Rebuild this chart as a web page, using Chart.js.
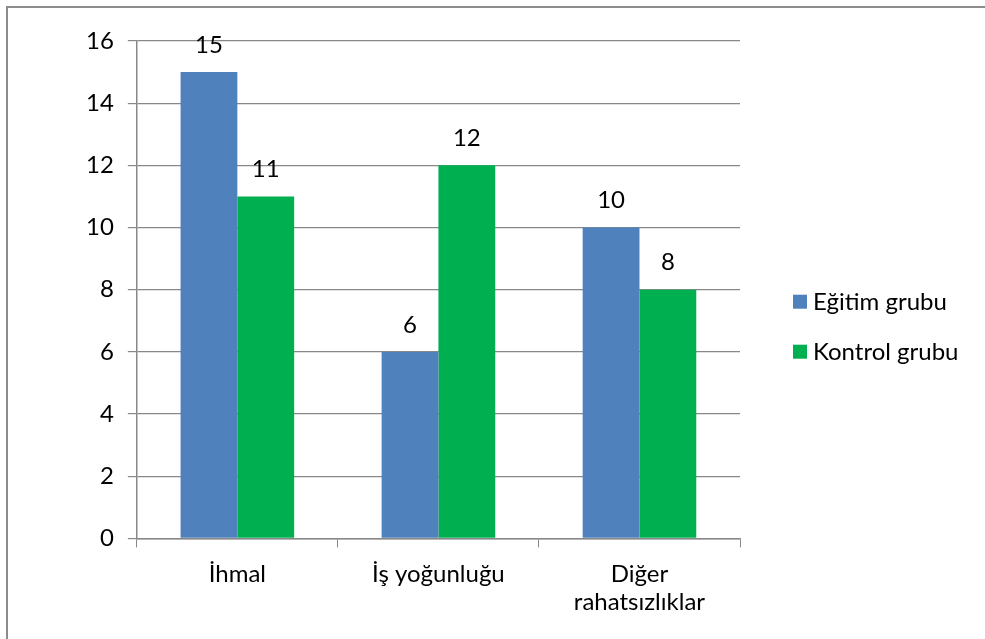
<!DOCTYPE html>
<html>
<head>
<meta charset="utf-8">
<script src="https://cdn.jsdelivr.net/npm/chart.js@4/dist/chart.umd.min.js"></script>
<style>
  html, body { margin: 0; padding: 0; background: #fff; overflow: hidden; }
  #frame { position: absolute; left: 6px; top: 6px; width: 990px; height: 650px;
           border-left: 2px solid #8c8c8c; border-top: 2px solid #8c8c8c; }
  #wrap { position: absolute; left: 0; top: 0; width: 985px; height: 639px; }
</style>
</head>
<body>
<div id="frame"></div>
<div id="wrap"><canvas id="canvas"></canvas></div>
<script>
// categories and series
var categories = ['İhmal', 'İş yoğunluğu', ['Diğer', 'rahatsızlıklar']]
var egitim = [15, 6, 10]
var kontrol = [11, 12, 8]
var seriesNames = ['Eğitim grubu', 'Kontrol grubu']
var yTicks = [0, 2, 4, 6, 8, 10, 12, 14, 16]

var fontName = 'Lato, "Open Sans", sans-serif'
var fontSize = 24

// draws value above every bar
var valueLabels = {
  id: 'valueLabels',
  afterDatasetsDraw: function(chart) {
    var ctx = chart.ctx
    ctx.save()
    ctx.fillStyle = '#000'
    ctx.font = fontSize + 'px ' + fontName
    ctx.textAlign = 'center'
    ctx.textBaseline = 'middle'
    chart.data.datasets.forEach(function(ds, i) {
      chart.getDatasetMeta(i).data.forEach(function(bar, j) {
        ctx.fillText(ds.data[j], bar.x, bar.y - 27)
      })
    })
    ctx.restore()
  }
}

// legend to the right of the plot area
var sideLegend = {
  id: 'sideLegend',
  afterDraw: function(chart) {
    var ctx = chart.ctx
    var area = chart.chartArea
    var x = area.right + 53
    var y = (area.top + area.bottom) / 2 + 12
    ctx.save()
    ctx.font = fontSize + 'px ' + fontName
    ctx.textBaseline = 'middle'
    ctx.textAlign = 'left'
    chart.data.datasets.forEach(function(ds, i) {
      var yy = y + i * 50
      ctx.fillStyle = ds.backgroundColor
      ctx.fillRect(x, yy - 7, 14, 14)
      ctx.fillStyle = '#000'
      ctx.fillText(ds.label, x + 20, yy + 1)
    })
    ctx.restore()
  }
}

var myChart = document.getElementById('canvas').getContext('2d')

var chart = new Chart(myChart, {
  type: 'bar',
  data: {
    labels: categories,
    datasets: [{
      label: seriesNames[0],
      data: egitim,
      backgroundColor: '#4f81bd',
      categoryPercentage: 0.565,
      barPercentage: 1
    }, {
      label: seriesNames[1],
      data: kontrol,
      backgroundColor: '#00b050',
      categoryPercentage: 0.565,
      barPercentage: 1
    }]
  },
  plugins: [valueLabels, sideLegend],
  options: {
    responsive: true,
    maintainAspectRatio: false,
    animation: false,
    layout: { padding: { left: 72, top: 41, right: 245, bottom: 10 } },
    plugins: {
      tooltip: { enabled: false },
      legend: { display: false }
    },
    scales: {
      x: {
        grid: {
          offset: true,
          drawOnChartArea: false,
          color: '#888',
          tickLength: 9
        },
        border: { color: '#888', width: 1.5 },
        ticks: {
          color: '#000',
          font: { family: fontName, size: fontSize },
          padding: 12
        }
      },
      y: {
        min: 0,
        max: 16,
        afterBuildTicks: function(axis) {
          axis.ticks = yTicks.map(function(v) { return { value: v } })
        },
        grid: { color: '#888', lineWidth: 1.2, tickLength: 9 },
        border: { color: '#888', width: 1.5 },
        ticks: {
          color: '#000',
          font: { family: fontName, size: fontSize },
          padding: 14
        }
      }
    }
  }
})
</script>
</body>
</html>
